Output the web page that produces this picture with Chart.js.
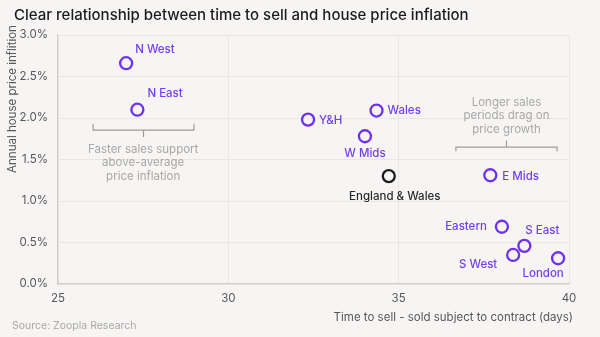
<!DOCTYPE html>
<html>
<head>
<meta charset="utf-8">
<script src="https://cdn.jsdelivr.net/npm/chart.js@4/dist/chart.umd.min.js"></script>
<style>
  html, body { margin: 0; padding: 0; background: #f6f5f3; }
  #wrap { width: 600px; height: 337px; position: relative; }
</style>
</head>
<body>
<div id="wrap"><canvas id="c" width="600" height="337"></canvas></div>
<script>
// Regions: days to sell (sold subject to contract) vs annual house price inflation (%)
const regions = ['N West', 'N East', 'Y&H', 'Wales', 'W Mids', 'England & Wales', 'E Mids', 'Eastern', 'S East', 'S West', 'London'];
const timeToSell = [27.0, 27.33, 32.34, 34.35, 34.01, 34.71, 37.69, 38.03, 38.69, 38.36, 39.68];
const priceInflation = [2.66, 2.10, 1.98, 2.09, 1.78, 1.30, 1.31, 0.69, 0.46, 0.35, 0.31];
const xTicks = [25, 30, 35, 40];
const yTicks = [0, 0.5, 1.0, 1.5, 2.0, 2.5, 3.0];

// Label placement for each point: pixel offset and text alignment
const labelPlacement = [
  { dx: 9, dy: -14, align: 'left' },
  { dx: 10, dy: -16, align: 'left' },
  { dx: 11, dy: 1, align: 'left' },
  { dx: 11, dy: 0, align: 'left' },
  { dx: 0, dy: 17, align: 'center' },
  { dx: 6, dy: 20, align: 'center' },
  { dx: 12, dy: 1, align: 'left' },
  { dx: -15, dy: 0, align: 'right' },
  { dx: 18, dy: -15, align: 'center' },
  { dx: -35, dy: 10, align: 'center' },
  { dx: -15, dy: 15, align: 'center' }
];

const PURPLE = '#6f2ff4';
const PURPLE_TEXT = '#7340ef';
const DARK = '#1c1b22';
const AXIS_TEXT = '#58575c';
const NOTE = '#a9a8a8';
const FONT = 'Inter, "Noto Sans", sans-serif';

const points = timeToSell.map((x, i) => ({ x, y: priceInflation[i] }));
const isTotal = regions.map(r => r === 'England & Wales');

const annotations = {
  id: 'annotations',
  afterDatasetsDraw(chart) {
    const ctx = chart.ctx;
    const xs = chart.scales.x, ys = chart.scales.y;
    const meta = chart.getDatasetMeta(0);

    // point labels
    ctx.save();
    ctx.textBaseline = 'middle';
    meta.data.forEach((el, i) => {
      const p = labelPlacement[i];
      ctx.font = '500 11.5px ' + FONT;
      ctx.fillStyle = isTotal[i] ? '#2b2a30' : PURPLE_TEXT;
      ctx.textAlign = p.align;
      ctx.fillText(regions[i], el.x + p.dx, el.y + p.dy);
    });

    // brackets and notes
    ctx.strokeStyle = '#9d9c9c';
    ctx.lineWidth = 1.2;
    const px = v => xs.getPixelForValue(v);
    const py = v => ys.getPixelForValue(v);

    // left bracket (opening downward note)
    let l = px(26.03), r = px(28.99), m = (l + r) / 2;
    let top = py(1.93), mid = py(1.855), tip = py(1.77);
    ctx.beginPath();
    ctx.moveTo(l, top); ctx.lineTo(l, mid); ctx.lineTo(r, mid); ctx.lineTo(r, top);
    ctx.moveTo(m, mid); ctx.lineTo(m, tip);
    ctx.stroke();

    // right bracket
    l = px(36.68); r = px(39.65); m = (l + r) / 2;
    let ends = py(1.60), bar = py(1.65), up = py(1.73);
    ctx.beginPath();
    ctx.moveTo(l, ends); ctx.lineTo(l, bar); ctx.lineTo(r, bar); ctx.lineTo(r, ends);
    ctx.moveTo(m, bar); ctx.lineTo(m, up);
    ctx.stroke();

    ctx.fillStyle = NOTE;
    ctx.font = '400 11.5px ' + FONT;
    ctx.textAlign = 'center';
    const leftNote = ['Faster sales support', 'above-average', 'price inflation'];
    leftNote.forEach((t, k) => ctx.fillText(t, px(27.5), py(1.62) + k * 13.5));
    const rightNote = ['Longer sales', 'periods drag on', 'price growth'];
    const rc = (px(36.68) + px(39.65)) / 2;
    rightNote.forEach((t, k) => ctx.fillText(t, rc, py(2.19) + k * 13.5));
    ctx.restore();
  },
  afterDraw(chart) {
    const ctx = chart.ctx;
    ctx.save();
    // title
    ctx.fillStyle = DARK;
    ctx.font = '500 15px ' + FONT;
    ctx.textAlign = 'left';
    ctx.textBaseline = 'middle';
    ctx.fillText('Clear relationship between time to sell and house price inflation', 14, 15);

    // axis titles
    ctx.fillStyle = AXIS_TEXT;
    ctx.font = '400 11.5px ' + FONT;
    ctx.textAlign = 'right';
    ctx.fillText('Time to sell - sold subject to contract (days)', 573, 318);

    ctx.save();
    ctx.translate(13, 99);
    ctx.rotate(-Math.PI / 2);
    ctx.textAlign = 'center';
    ctx.fillText('Annual house price inflition', 0, 0);
    ctx.restore();

    // source
    ctx.fillStyle = NOTE;
    ctx.font = '400 10.5px ' + FONT;
    ctx.textAlign = 'left';
    ctx.fillText('Source: Zoopla Research', 12, 326);
    ctx.restore();
  }
};

new Chart(document.getElementById('c'), {
  type: 'scatter',
  data: {
    datasets: [{
      data: points,
      pointStyle: 'circle',
      pointRadius: 6,
      pointHoverRadius: 6,
      pointBorderWidth: 2.3,
      pointBackgroundColor: 'rgba(0,0,0,0)',
      pointBorderColor: isTotal.map(t => t ? DARK : PURPLE)
    }]
  },
  options: {
    responsive: false,
    animation: false,
    events: [],
    layout: { padding: { left: 0, right: 31, top: 35, bottom: 0 } },
    plugins: { legend: { display: false }, tooltip: { enabled: false } },
    scales: {
      x: {
        type: 'linear',
        min: 25, max: 40,
        afterFit: s => { s.height = 53; },
        afterBuildTicks: s => { s.ticks = xTicks.map(v => ({ value: v })); },
        grid: { color: '#e9e7e4', lineWidth: 1, drawTicks: false },
        border: { color: '#cfcdca', width: 1.2 },
        ticks: { color: AXIS_TEXT, padding: 8, font: { family: FONT, size: 11.5 } }
      },
      y: {
        type: 'linear',
        min: 0, max: 3,
        afterFit: s => { s.width = 58; },
        afterBuildTicks: s => { s.ticks = yTicks.map(v => ({ value: v })); },
        grid: { color: '#e9e7e4', lineWidth: 1, drawTicks: false },
        border: { color: '#cfcdca', width: 1.2 },
        ticks: {
          color: AXIS_TEXT, padding: 10, font: { family: FONT, size: 11.5 },
          callback: v => v.toFixed(1) + '%'
        }
      }
    }
  },
  plugins: [annotations]
});
</script>
</body>
</html>
